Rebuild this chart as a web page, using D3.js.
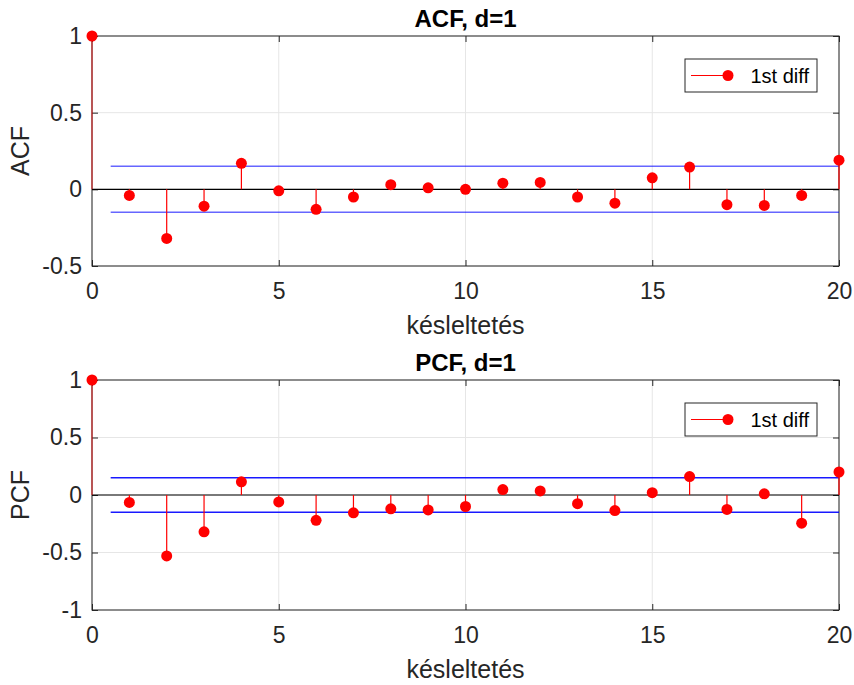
<!DOCTYPE html>
<html>
<head>
    <meta charset="utf-8">
    <title>ACF / PCF, d=1</title>
    <script src="https://d3js.org/d3.v7.min.js"></script>
    <style>
        body { margin: 0; background: white; }
        svg { font-family: "Liberation Sans", Arial, sans-serif; }
        .axis-label { font-size: 25px; fill: #262626; }
        .title { font-size: 24px; font-weight: bold; fill: #000; }
    </style>
</head>
<body>
    <svg id="chart"></svg>
    <script>
        // lags 0..20
        var lags = d3.range(0, 21);
        var acfValues = [1, -0.04, -0.32, -0.11, 0.17, -0.01, -0.13, -0.05, 0.03, 0.01, 0,
                         0.04, 0.045, -0.05, -0.09, 0.075, 0.145, -0.10, -0.105, -0.04, 0.19];
        var pcfValues = [1, -0.065, -0.53, -0.32, 0.115, -0.06, -0.22, -0.155, -0.12, -0.13, -0.10,
                         0.047, 0.035, -0.075, -0.135, 0.02, 0.16, -0.125, 0.01, -0.245, 0.2];
        var confBound = 0.15;
        var xTicks = [0, 5, 10, 15, 20];
        var acfYTicks = [-0.5, 0, 0.5, 1];
        var pcfYTicks = [-1, -0.5, 0, 0.5, 1];
        var legendLabel = '1st diff';
        var xLabel = 'késleltetés';

        var width = 854, height = 685;
        var svg = d3.select('#chart').attr('width', width).attr('height', height);

        var x = d3.scaleLinear().domain([0, 20]).range([92, 839]);

        // one panel per function
        var panels = [
            { title: 'ACF, d=1', ylab: 'ACF', values: acfValues, domain: [-0.5, 1], ticks: acfYTicks, top: 36, bottom: 266, bandOpacity: 0.6 },
            { title: 'PCF, d=1', ylab: 'PCF', values: pcfValues, domain: [-1, 1], ticks: pcfYTicks, top: 380, bottom: 610, bandOpacity: 0.9 }
        ];

        function styleTicks(a) {
            a.select('.domain').remove();
            a.attr('font-family', null).attr('font-size', null);
            a.selectAll('.tick text')
                .style('font-size', '23px')
                .style('font-family', '"Liberation Sans", Arial, sans-serif')
                .attr('fill', '#262626');
            a.selectAll('.tick line').attr('stroke', '#262626');
        }

        panels.forEach(function (p) {
            var y = d3.scaleLinear().domain(p.domain).range([p.bottom, p.top]);
            var g = svg.append('g');

            // grid
            g.selectAll('.gx').data(xTicks).enter().append('line')
                .attr('x1', d => x(d)).attr('x2', d => x(d))
                .attr('y1', p.top).attr('y2', p.bottom)
                .attr('stroke', '#e6e6e6').attr('stroke-width', 1);
            g.selectAll('.gy').data(p.ticks).enter().append('line')
                .attr('x1', x.range()[0]).attr('x2', x.range()[1])
                .attr('y1', d => y(d)).attr('y2', d => y(d))
                .attr('stroke', '#e6e6e6').attr('stroke-width', 1);

            // axes (ticks inside, box on)
            g.append('g').attr('transform', 'translate(0,' + p.bottom + ')')
                .call(d3.axisBottom(x).tickValues(xTicks).tickSize(-6).tickPadding(17).tickFormat(d => String(d)))
                .call(styleTicks);
            g.append('g').attr('transform', 'translate(0,' + p.top + ')')
                .call(d3.axisTop(x).tickValues(xTicks).tickSize(-6).tickFormat(''))
                .call(styleTicks);
            g.append('g').attr('transform', 'translate(' + x.range()[0] + ',0)')
                .call(d3.axisLeft(y).tickValues(p.ticks).tickSize(-6).tickPadding(10).tickFormat(d => String(d)))
                .call(styleTicks);
            g.append('g').attr('transform', 'translate(' + x.range()[1] + ',0)')
                .call(d3.axisRight(y).tickValues(p.ticks).tickSize(-6).tickFormat(''))
                .call(styleTicks);

            // box
            g.append('rect')
                .attr('x', x.range()[0]).attr('y', p.top)
                .attr('width', x.range()[1] - x.range()[0]).attr('height', p.bottom - p.top)
                .attr('fill', 'none').attr('stroke', '#262626').attr('stroke-width', 1);

            // confidence bounds
            [confBound, -confBound].forEach(function (c) {
                g.append('line')
                    .attr('x1', x(0.5)).attr('x2', x(20))
                    .attr('y1', y(c)).attr('y2', y(c))
                    .attr('stroke', '#0000ff').attr('stroke-opacity', p.bandOpacity).attr('stroke-width', 1.5);
            });

            // zero baseline
            g.append('line')
                .attr('x1', x(0)).attr('x2', x(20))
                .attr('y1', y(0)).attr('y2', y(0))
                .attr('stroke', '#000').attr('stroke-width', 1.2);

            // stems
            g.selectAll('.stem').data(lags).enter().append('line')
                .attr('x1', d => x(d)).attr('x2', d => x(d))
                .attr('y1', y(0)).attr('y2', d => y(p.values[d]))
                .attr('stroke', '#ff0000').attr('stroke-opacity', d => d === 0 ? 0.65 : 1)
                .attr('stroke-width', 1.2);

            g.selectAll('.mk').data(lags).enter().append('circle')
                .attr('cx', d => x(d)).attr('cy', d => y(p.values[d]))
                .attr('r', 5.5).attr('fill', '#ff0000');

            // title and labels
            g.append('text').attr('class', 'title')
                .attr('x', (x.range()[0] + x.range()[1]) / 2).attr('y', p.top - 9)
                .attr('text-anchor', 'middle').text(p.title);
            g.append('text').attr('class', 'axis-label')
                .attr('x', (x.range()[0] + x.range()[1]) / 2).attr('y', p.bottom + 68)
                .attr('text-anchor', 'middle').text(xLabel);
            g.append('text').attr('class', 'axis-label')
                .attr('transform', 'translate(29,' + (p.top + p.bottom) / 2 + ') rotate(-90)')
                .attr('text-anchor', 'middle').text(p.ylab);

            // legend
            var lg = g.append('g').attr('transform', 'translate(685,' + (p.top + 23) + ')');
            lg.append('rect').attr('width', 132).attr('height', 33)
                .attr('fill', 'white').attr('stroke', '#262626').attr('stroke-width', 1);
            lg.append('line').attr('x1', 6).attr('x2', 43).attr('y1', 16.5).attr('y2', 16.5)
                .attr('stroke', '#ff0000').attr('stroke-width', 1);
            lg.append('circle').attr('cx', 43).attr('cy', 16.5).attr('r', 5.5).attr('fill', '#ff0000');
            lg.append('text').attr('x', 124).attr('y', 23.5).attr('text-anchor', 'end')
                .style('font-size', '20px').attr('fill', '#000').text(legendLabel);
        });
    </script>
</body>
</html>
